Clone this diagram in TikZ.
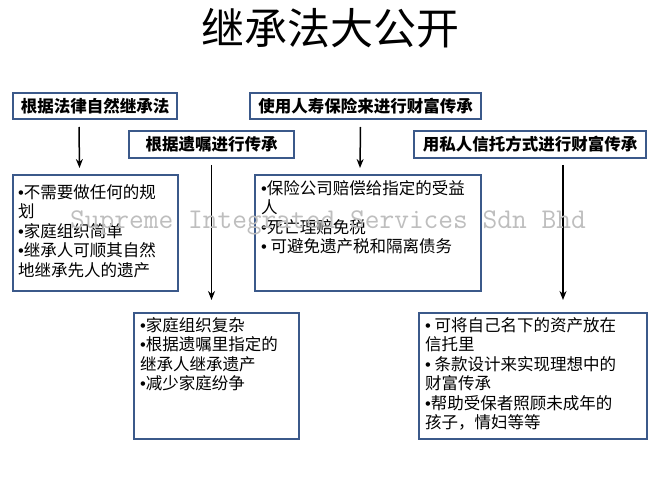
\documentclass[tikz,border=0pt]{standalone}
\usepackage{fontspec}
\setmainfont{Noto Sans CJK SC}
\newfontfamily\bulletfont{Liberation Sans}
\newcommand{\dotmark}{{\bulletfont •}}
\usepackage{tikz}
\usetikzlibrary{arrows.meta, positioning}
\definecolor{boxblue}{RGB}{59,89,138}
\definecolor{markgray}{RGB}{190,190,190}
\tikzset{
	headbox/.style={draw=boxblue, line width=2pt, fill=white, inner sep=0pt, anchor=north west, font=\fontsize{16.5}{19}\selectfont\bfseries},
	listbox/.style={draw=boxblue, line width=2pt, fill=white, inner sep=0pt, anchor=north west},
	listtext/.style={inner sep=0pt, anchor=north west, align=left, font=\fontsize{16.5}{19.5}\selectfont},
	flow/.style={-{Stealth[length=9pt,width=7pt]}, line width=1.5pt}
}
\begin{document}
\begin{tikzpicture}[x=1pt, y=-1pt]
		\useasboundingbox (0,0) rectangle (662,492);
		\node[font=\fontsize{43}{43}\selectfont] (title) at (330,28) {继承法大公开};
		\node[headbox, minimum width=164pt, minimum height=26pt] (law) at (12,92) {根据法律自然继承法};
		\node[headbox, minimum width=231pt, minimum height=26pt] (insure) at (249,92) {使用人寿保险来进行财富传承};
		\node[headbox, minimum width=165pt, minimum height=27pt] (will) at (128,130) {根据遗嘱进行传承};
		\node[headbox, minimum width=232pt, minimum height=27pt] (trust) at (413,130) {用私人信托方式进行财富传承};
		\node[listbox, minimum width=165pt, minimum height=116pt] (lawlist) at (12,174) {};
		\node[listbox, minimum width=226pt, minimum height=116pt] (insurelist) at (254,174) {};
		\node[listbox, minimum width=165pt, minimum height=126pt] (willlist) at (133,312) {};
		\node[listbox, minimum width=228pt, minimum height=126pt] (trustlist) at (418,312) {};
		\node[listtext] (lawtext) at ([xshift=6pt,yshift=-10pt]lawlist.north west) {\dotmark 不需要做任何的规\\划\\\dotmark 家庭组织简单\\\dotmark 继承人可顺其自然\\地继承先人的遗产};
		\node[listtext] (insuretext) at ([xshift=7pt,yshift=-6pt]insurelist.north west) {\dotmark 保险公司赔偿给指定的受益\\人\\\dotmark 死亡理赔免税\\\dotmark\ 可避免遗产税和隔离债务};
		\node[listtext] (willtext) at ([xshift=7pt,yshift=-5pt]willlist.north west) {\dotmark 家庭组织复杂\\\dotmark 根据遗嘱里指定的\\继承人继承遗产\\\dotmark 减少家庭纷争};
		\node[listtext] (trusttext) at ([xshift=7pt,yshift=-5pt]trustlist.north west) {\dotmark\ 可将自己名下的资产放在\\信托里\\\dotmark\ 条款设计来实现理想中的\\财富传承\\\dotmark 帮助受保者照顾未成年的\\孩子，情妇等等};
		\coordinate (willend) at (will.south |- willlist.north);
		\coordinate (trustend) at (trust.south |- trustlist.north);
		\draw[flow] ([xshift=-16pt,yshift=-7pt]law.south) -- ([xshift=-16pt,yshift=6pt]lawlist.north);
		\draw[flow] ([xshift=-5pt,yshift=-7pt]insure.south) -- ([xshift=-8pt,yshift=6pt]insurelist.north);
		\draw[flow] ([yshift=-6pt]will.south) -- ([yshift=12pt]willend);
		\draw[flow] ([xshift=33pt,yshift=-6pt]trust.south) -- ([xshift=33pt,yshift=12pt]trustend);
		\node[text=markgray, font=\ttfamily\fontsize{28.6}{28.6}\selectfont] (mark) at (328,223) {Supreme Integrated Services Sdn Bhd};
		\end{tikzpicture}
\end{document}
